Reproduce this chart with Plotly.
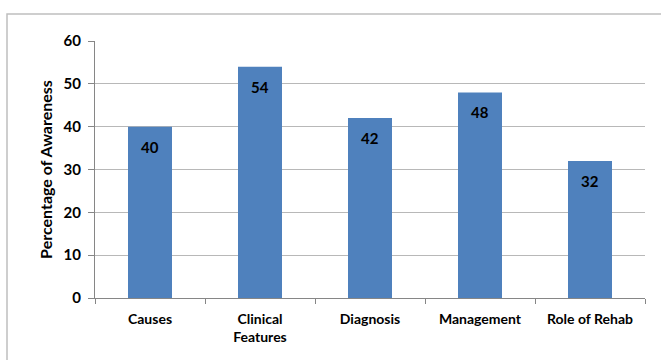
import plotly.graph_objects as go

categories = ["Causes", "Clinical<br>Features", "Diagnosis", "Management", "Role of Rehab"]
values = [40, 54, 42, 48, 32]
y_ticks = [0, 10, 20, 30, 40, 50, 60]

FONT = "Lato, Carlito, 'Open Sans', sans-serif"

fig = go.Figure(go.Bar(
    x=categories, y=values,
    marker=dict(color="#4F81BD", line=dict(width=0)),
    width=0.4,
))

for c, v in zip(categories, values):
    fig.add_annotation(x=c, y=v, text=str(v), showarrow=False,
                       yanchor="top", yshift=-9,
                       font=dict(family=FONT, size=15, color="black", weight="bold"))

fig.update_layout(
    width=661, height=360,
    margin=dict(l=95, r=16, t=41, b=62),
    plot_bgcolor="white", paper_bgcolor="white",
    showlegend=False,
    font=dict(family=FONT, size=14, color="black"),
    xaxis=dict(
        showline=True, linecolor="#868686", linewidth=1,
        ticks="outside", tickson="boundaries", ticklen=5, tickcolor="#868686",
        tickfont=dict(family=FONT, size=14, color="black", weight="bold"),
        ticklabelstandoff=8,
        showgrid=False,
    ),
    yaxis=dict(
        range=[0, 60], tickvals=y_ticks,
        showline=True, linecolor="#868686", linewidth=1,
        ticks="outside", ticklen=6, tickcolor="#868686",
        tickfont=dict(family=FONT, size=15, color="black", weight="bold"),
        ticklabelstandoff=4,
        showgrid=True, gridcolor="#B8B8B8", gridwidth=1, zeroline=False,
        title=dict(text="Percentage of Awareness", standoff=6,
                   font=dict(family=FONT, size=16, color="black", weight="bold")),
    ),
    shapes=[dict(type="rect", xref="paper", yref="paper",
                 x0=-88/550, x1=620/550, y0=-80/257, y1=(298-14)/257,
                 line=dict(color="#BFBFBF", width=1.5), layer="below")],
)

fig.write_html("out.html")
